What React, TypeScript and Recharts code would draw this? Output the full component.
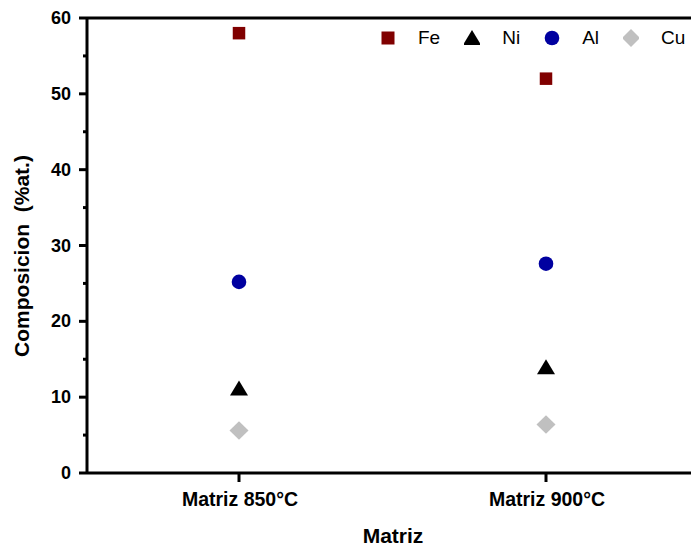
import React from "react";
import {
  ComposedChart,
  Scatter,
  XAxis,
  YAxis,
  Legend,
  ReferenceLine,
  Label,
} from "recharts";

const categories = ["Matriz 850°C", "Matriz 900°C"];
const fe = [58, 52];
const ni = [11.2, 14.0];
const al = [25.2, 27.6];
const cu = [5.6, 6.4];
const yTicks = [0, 5, 10, 15, 20, 25, 30, 35, 40, 45, 50, 55, 60];

const chartData = categories.map((name, i) => ({
  name,
  fe: fe[i],
  ni: ni[i],
  al: al[i],
  cu: cu[i],
}));

const FONT = '"Liberation Sans", Arial, sans-serif';
const PLOT_LEFT = 87;
const PLOT_BOTTOM = 473;

const COLORS = {
  fe: "#800000",
  ni: "#000000",
  al: "#0000a0",
  cu: "#c0c0c0",
};

// marker shapes
const Square = ({ cx, cy, fill }: any) => (
  <rect x={cx - 6.25} y={cy - 6.25} width={12.5} height={12.5} fill={fill} />
);
const Triangle = ({ cx, cy, fill }: any) => (
  <polygon
    points={`${cx},${cy - 7.5} ${cx + 9},${cy + 7.5} ${cx - 9},${cy + 7.5}`}
    fill={fill}
  />
);
const Circle = ({ cx, cy, fill }: any) => (
  <circle cx={cx} cy={cy} r={7.3} fill={fill} />
);
const Diamond = ({ cx, cy, fill }: any) => (
  <polygon
    points={`${cx},${cy - 9.3} ${cx + 9.5},${cy} ${cx},${cy + 9.3} ${cx - 9.5},${cy}`}
    fill={fill}
  />
);

const YTick = ({ y, payload }: any) => {
  const major = payload.value % 10 === 0;
  return (
    <g>
      <line
        x1={PLOT_LEFT - (major ? 8 : 4)}
        x2={PLOT_LEFT}
        y1={y}
        y2={y}
        stroke="#000"
        strokeWidth={3}
      />
      {major && (
        <text
          x={71}
          y={y}
          textAnchor="end"
          dominantBaseline="central"
          fontFamily={FONT}
          fontWeight="bold"
          fontSize={18}
          fill="#000"
        >
          {payload.value}
        </text>
      )}
    </g>
  );
};

const XTick = ({ x, payload }: any) => (
  <g>
    <line
      x1={x}
      x2={x}
      y1={PLOT_BOTTOM}
      y2={PLOT_BOTTOM + 9}
      stroke="#000"
      strokeWidth={3}
    />
    <text
      x={x + 1}
      y={506}
      textAnchor="middle"
      fontFamily={FONT}
      fontWeight="bold"
      fontSize={19.5}
      fill="#000"
    >
      {payload.value}
    </text>
  </g>
);

const legendItems = [
  { name: "Fe", color: COLORS.fe, shape: "square" },
  { name: "Ni", color: COLORS.ni, shape: "triangle" },
  { name: "Al", color: COLORS.al, shape: "circle" },
  { name: "Cu", color: COLORS.cu, shape: "diamond" },
];

const LegendIcon = ({ shape, color }: { shape: string; color: string }) => (
  <svg width={16} height={18} style={{ display: "block" }}>
    {shape === "square" && <rect x={1.5} y={2.5} width={13} height={13} fill={color} />}
    {shape === "triangle" && <polygon points="8,1 17,16 -1,16" fill={color} />}
    {shape === "circle" && <circle cx={8} cy={9} r={7.3} fill={color} />}
    {shape === "diamond" && <polygon points="8,0 17,9 8,18 -1,9" fill={color} />}
  </svg>
);

const renderLegend = () => (
  <div
    style={{
      display: "flex",
      alignItems: "center",
      height: 22,
      fontFamily: FONT,
      fontSize: 19,
      color: "#000",
      whiteSpace: "nowrap",
    }}
  >
    {legendItems.map((it) => (
      <div
        key={it.name}
        style={{ display: "flex", alignItems: "center", marginRight: 24 }}
      >
        <div style={{ overflow: "visible" }}>
          <LegendIcon shape={it.shape} color={it.color} />
        </div>
        <span style={{ marginLeft: 22 }}>{it.name}</span>
      </div>
    ))}
  </div>
);

export default function App() {
  return (
    <div
      style={{
        position: "absolute",
        left: 0,
        top: 0,
        width: 691,
        height: 548,
        overflow: "hidden",
        background: "#fff",
      }}
    >
      <ComposedChart
        width={720}
        height={548}
        data={chartData}
        margin={{ top: 18, right: 20, bottom: 15, left: 0 }}
      >
        <XAxis
          dataKey="name"
          type="category"
          height={60}
          padding={{ left: 152, right: 154 }}
          axisLine={{ stroke: "#000", strokeWidth: 3 }}
          tickLine={false}
          tick={<XTick />}
          interval={0}
        >
          <Label
            content={() => (
              <text
                x={393}
                y={543}
                textAnchor="middle"
                fontFamily={FONT}
                fontWeight="bold"
                fontSize={21}
                fill="#000"
              >
                Matriz
              </text>
            )}
          />
        </XAxis>
        <YAxis
          width={87}
          domain={[0, 60]}
          ticks={yTicks}
          interval={0}
          axisLine={{ stroke: "#000", strokeWidth: 3 }}
          tickLine={false}
          tick={<YTick />}
        >
          <Label
            content={() => (
              <text
                x={29}
                y={256}
                transform="rotate(-90 29 256)"
                textAnchor="middle"
                fontFamily={FONT}
                fontWeight="bold"
                fontSize={21}
                fill="#000"
                style={{ whiteSpace: "pre" }}
              >
                Composicion  (%at.)
              </text>
            )}
          />
        </YAxis>
        <ReferenceLine y={60} stroke="#000" strokeWidth={3} />
        <Legend
          layout="horizontal"
          align="center"
          verticalAlign="middle"
          content={renderLegend}
          wrapperStyle={{ top: 27, left: 380, width: "auto" }}
        />
        <Scatter name="Fe" dataKey="fe" fill={COLORS.fe} shape={<Square />} isAnimationActive={false} />
        <Scatter name="Ni" dataKey="ni" fill={COLORS.ni} shape={<Triangle />} isAnimationActive={false} />
        <Scatter name="Al" dataKey="al" fill={COLORS.al} shape={<Circle />} isAnimationActive={false} />
        <Scatter name="Cu" dataKey="cu" fill={COLORS.cu} shape={<Diamond />} isAnimationActive={false} />
      </ComposedChart>
    </div>
  );
}
